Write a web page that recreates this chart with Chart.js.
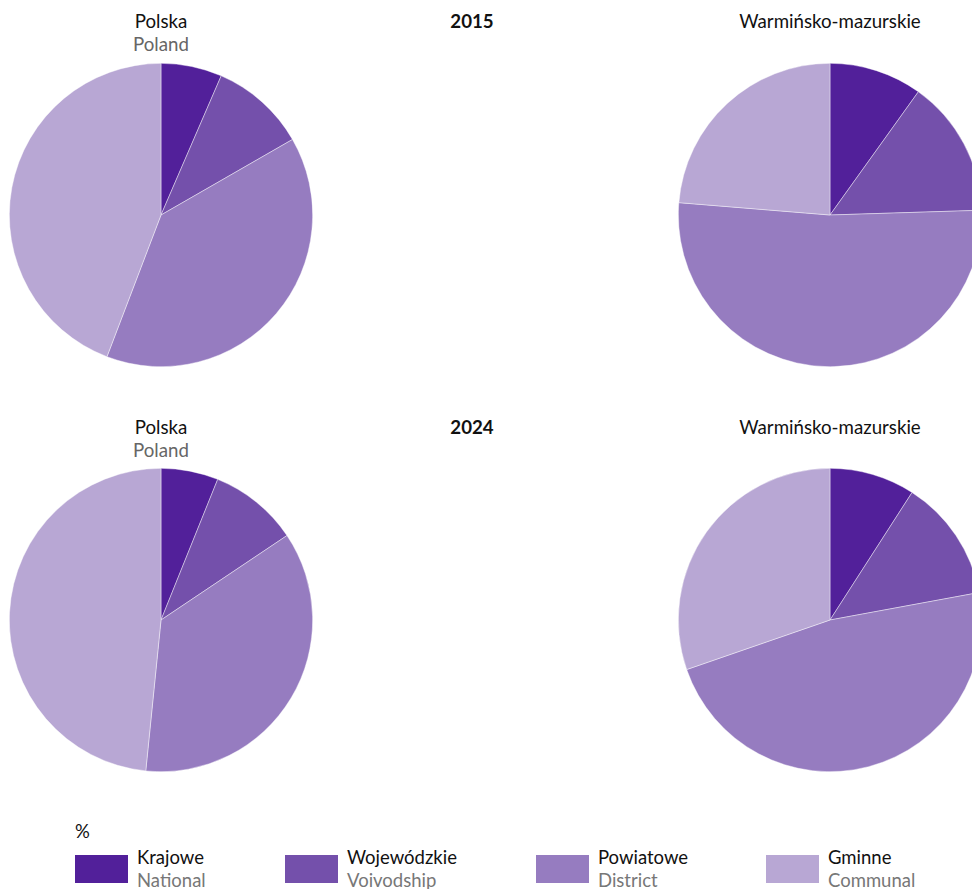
<!DOCTYPE html>
<html><head><meta charset="utf-8">
<script src="https://cdn.jsdelivr.net/npm/chart.js@4"></script>
<style>
html,body{margin:0;padding:0;background:#fff;width:972px;height:889px;overflow:hidden;font-family:Lato,"Open Sans",sans-serif;}
#wrap{position:relative;width:972px;height:889px;overflow:hidden;}
.c{position:absolute;}
.t{position:absolute;font-size:18.7px;color:#111;text-align:center;transform:translateX(-50%);white-space:nowrap;line-height:23px;}
.t .g{color:#666;}
.b{font-weight:bold;}
.box{position:absolute;width:53px;height:28px;}
.lab{position:absolute;font-size:18.5px;line-height:23px;color:#111;white-space:nowrap;}
.lab .g{color:#777;}
</style></head><body><div id="wrap">
<canvas id="p1" class="c" width="304" height="304" style="left:9px;top:63px"></canvas>
<canvas id="p2" class="c" width="304" height="304" style="left:678px;top:63px"></canvas>
<canvas id="p3" class="c" width="304" height="304" style="left:9px;top:468px"></canvas>
<canvas id="p4" class="c" width="304" height="304" style="left:678px;top:468px"></canvas>
<div class="t" style="left:161px;top:10px">Polska<br><span class="g">Poland</span></div>
<div class="t b" style="left:472px;top:10px">2015</div>
<div class="t" style="left:830px;top:10px">Warmińsko-mazurskie</div>
<div class="t" style="left:161px;top:416px">Polska<br><span class="g">Poland</span></div>
<div class="t b" style="left:472px;top:416px">2024</div>
<div class="t" style="left:830px;top:416px">Warmińsko-mazurskie</div>
<div class="lab" style="left:75px;top:820px">%</div>
<div id="legend"></div>
</div>
<script>
const categoriesPL = ["Krajowe","Wojewódzkie","Powiatowe","Gminne"];
const categoriesEN = ["National","Voivodship","District","Communal"];
const colors = ["#52209a","#7450ab","#967cc0","#b8a7d4"];
const poland2015 = [6.5, 10.2, 39.1, 44.2];
const warm2015 = [9.9, 14.6, 51.8, 23.7];
const poland2024 = [6.1, 9.5, 36.0, 48.4];
const warm2024 = [9.1, 13.0, 47.6, 30.3];

function pie(id, data){
  new Chart(document.getElementById(id), {
    type:'pie',
    data:{labels:categoriesPL, datasets:[{data:data, backgroundColor:colors, borderColor:'rgba(255,255,255,0.6)', borderWidth:0.7}]},
    options:{responsive:false, animation:false, layout:{padding:0},
      plugins:{legend:{display:false}, tooltip:{enabled:false}}}
  });
}
pie('p1', poland2015);
pie('p2', warm2015);
pie('p3', poland2024);
pie('p4', warm2024);

const boxX = [75, 285, 536, 766];
const lg = document.getElementById('legend');
categoriesPL.forEach((c,i)=>{
  const b = document.createElement('div'); b.className='box';
  b.style.left = boxX[i]+'px'; b.style.top='855px'; b.style.background=colors[i];
  lg.appendChild(b);
  const l = document.createElement('div'); l.className='lab';
  l.style.left=(boxX[i]+62)+'px'; l.style.top='846px';
  l.innerHTML = c + '<br><span class="g">'+categoriesEN[i]+'</span>';
  lg.appendChild(l);
});
</script>
</body></html>
